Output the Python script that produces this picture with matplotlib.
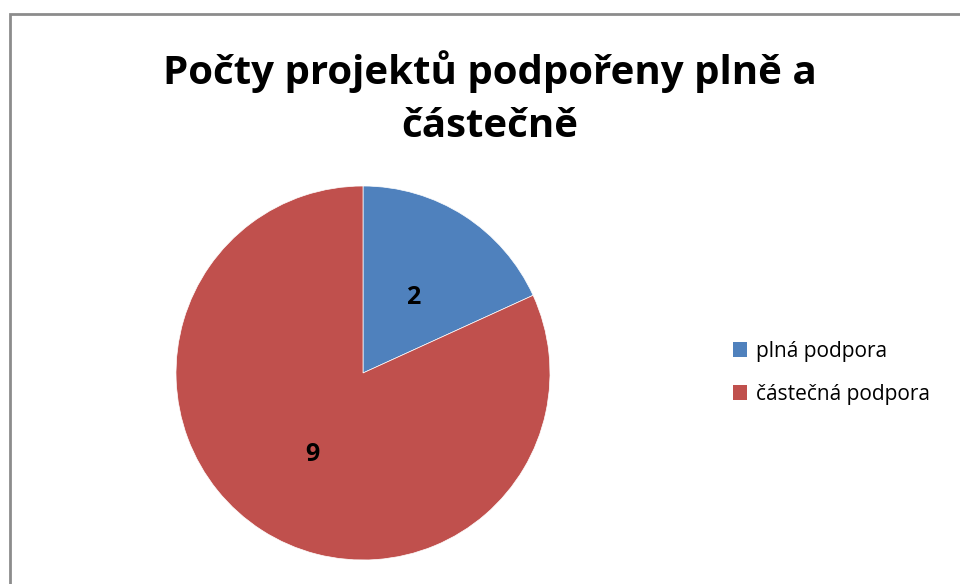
import matplotlib
matplotlib.use("Agg")
import matplotlib.pyplot as plt
from matplotlib.patches import Rectangle, Patch

categories = ["plná podpora", "částečná podpora"]
values = [2, 9]
colors = ["#4F81BD", "#C0504D"]
title = "Počty projektů podpořeny plně a\nčástečně"

plt.rcParams['font.family'] = ['Open Sans', 'DejaVu Sans']

W, H = 960, 584
fig = plt.figure(figsize=(9.6, 5.84), dpi=100)
fig.patch.set_facecolor("white")

# border
fig.add_artist(Rectangle((10 / W, -0.1), 1.2, (584 - 14) / H + 0.1, transform=fig.transFigure,
                         fill=False, edgecolor="#8c8c8c", linewidth=2))

cx, cy, r = 363, 373, 187
ax = fig.add_axes([(cx - r) / W, (H - cy - r) / H, 2 * r / W, 2 * r / H])
wedges, texts = ax.pie(values, colors=colors, startangle=90, counterclock=False,
                       labels=[str(v) for v in values], labeldistance=0.5,
                       wedgeprops=dict(linewidth=0.5, edgecolor="white"),
                       textprops=dict(fontsize=18, fontweight="bold", color="black"))
for t in texts:
    t.set_ha("center"); t.set_va("center_baseline")
ax.set_xlim(-1, 1); ax.set_ylim(-1, 1)
ax.set_aspect("equal")
ax.axis("off")

fig.text(490 / W, 1 - 98 / H, title, ha="center", va="center", fontsize=29,
         fontweight="bold", linespacing=1.45)

handles = [Patch(facecolor=c, edgecolor="none") for c in colors]
fig.legend(handles, categories, loc="center left", bbox_to_anchor=(714 / W, 1 - 373 / H),
           frameon=False, fontsize=15, handlelength=0.7, handleheight=0.7,
           handletextpad=0.4, labelspacing=1.05)

fig.savefig("out.png", dpi=100)
